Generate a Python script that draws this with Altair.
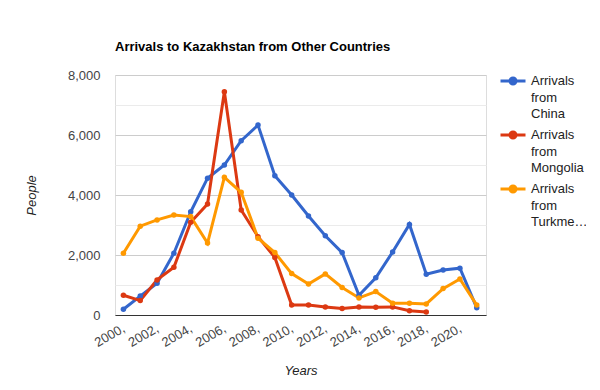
import altair as alt
import pandas as pd

years = list(range(2000, 2022))
china = [190, 630, 1060, 2060, 3440, 4560, 5000, 5810, 6330, 4640, 4000,
         3300, 2640, 2080, 660, 1240, 2100, 3020, 1360, 1500, 1560, 240]
mongolia = [660, 480, 1170, 1590, 3090, 3700, 7440, 3500, 2610, 1920, 330,
            330, 270, 220, 270, 260, 270, 140, 100]
turkmenistan = [2060, 2960, 3170, 3330, 3280, 2400, 4590, 4090, 2560, 2080, 1380,
                1030, 1370, 920, 570, 780, 390, 390, 370, 880, 1200, 330]
series_names = ["Arrivals from China", "Arrivals from Mongolia", "Arrivals from Turkmenistan"]
colors = ["#3366cc", "#dc3912", "#ff9900"]

rows = []
for name, vals in zip(series_names, [china, mongolia, turkmenistan]):
    for y, v in zip(years, vals):
        rows.append({"Year": y, "People": v, "Series": name})
df = pd.DataFrame(rows)

FONT = "Liberation Sans"

label_expr = (
    "datum.label == 'Arrivals from China' ? ['Arrivals', 'from', 'China'] : "
    "datum.label == 'Arrivals from Mongolia' ? ['Arrivals', 'from', 'Mongolia'] : "
    "['Arrivals', 'from', 'Turkme…']"
)

chart = alt.Chart(df).mark_line(
    strokeWidth=3,
    point=alt.OverlayMarkDef(filled=True, size=30, opacity=1),
).encode(
    x=alt.X("Year:Q",
            scale=alt.Scale(domain=[1999.5, 2021.55], nice=False, zero=False),
            axis=alt.Axis(values=list(range(2000, 2021, 2)),
                          labelExpr="datum.value + ','",
                          labelAngle=330, labelAlign="right", labelBaseline="middle",
                          labelPadding=12, labelOverlap=False, ticks=False, grid=False,
                          domainColor="#333333", domainWidth=1,
                          labelFont=FONT, labelFontSize=13, labelColor="#444444",
                          title="Years", titleFont=FONT, titleFontSize=13,
                          titleFontStyle="italic", titleFontWeight="normal",
                          titleColor="#222222", titlePadding=15)),
    y=alt.Y("People:Q",
            scale=alt.Scale(domain=[0, 8000], nice=False),
            axis=alt.Axis(values=list(range(0, 8001, 1000)),
                          labelExpr="datum.value % 2000 == 0 ? format(datum.value, ',') : ''",
                          gridColor=alt.condition("datum.value % 2000 == 0",
                                                  alt.value("#cccccc"), alt.value("#ebebeb")),
                          gridWidth=1, ticks=False, domain=False, labelPadding=15,
                          labelFont=FONT, labelFontSize=13, labelColor="#444444",
                          title="People", titleFont=FONT, titleFontSize=13,
                          titleFontStyle="italic", titleFontWeight="normal",
                          titleColor="#222222", titlePadding=29)),
    color=alt.Color("Series:N",
                    scale=alt.Scale(domain=series_names, range=colors),
                    legend=alt.Legend(
                        title=None, orient="none", legendX=384, legendY=-8,
                        padding=0, rowPadding=-9,
                        symbolType="M-1,0H1M-0.24,0a0.24,0.24 0 1,0 0.48,0a0.24,0.24 0 1,0 -0.48,0",
                        symbolSize=625, symbolStrokeWidth=3,
                        labelExpr=label_expr,
                        labelBaseline="middle", labelFont=FONT, labelFontSize=13,
                        labelColor="#222222", labelLimit=200, labelOffset=4)),
).properties(
    width=371, height=240,
    title=alt.TitleParams("Arrivals to Kazakhstan from Other Countries",
                          anchor="start", frame="group", font=FONT, fontSize=13,
                          fontWeight="bold", color="#000000", offset=13),
    padding={"left": 107, "top": 67, "right": 100, "bottom": 64},
    autosize=alt.AutoSizeParams(type="none"),
).configure_view(stroke=None).configure_legend(symbolFillColor=None).configure(
    style={"guide-label": {"lineHeight": 16.5}}
)

chart.save("out.html", embed_options={"renderer": "svg", "actions": False})
